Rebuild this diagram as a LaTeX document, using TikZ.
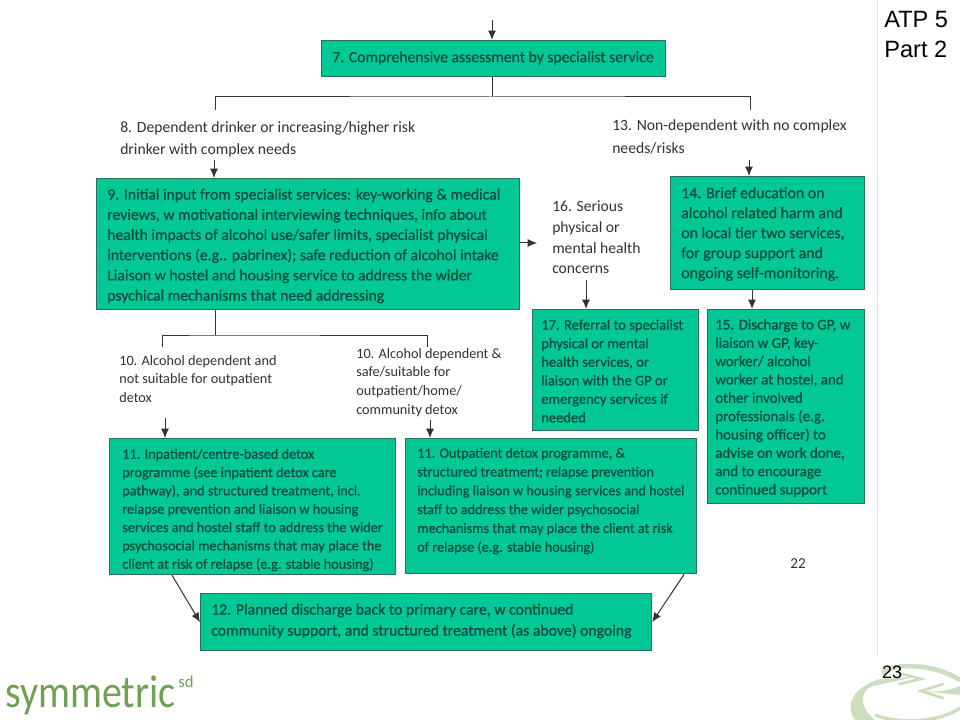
\documentclass[tikz,border=0pt]{standalone}
\usepackage{fontspec}
\setmainfont{Carlito}
\newfontfamily\arialf{Liberation Sans}
\newfontfamily\boxf[RawFeature={embolden=0.6}]{Carlito}
\usetikzlibrary{arrows.meta,calc}
\definecolor{boxfill}{RGB}{2,200,150}
\definecolor{boxline}{RGB}{45,110,95}
\definecolor{boxtext}{RGB}{10,75,60}
\definecolor{labtext}{RGB}{50,50,50}
\definecolor{logogreen}{RGB}{112,160,84}
\definecolor{swirl}{RGB}{205,222,190}
\tikzset{
  px/.style={x=0.75pt,y=-0.75pt},
  bx/.style={draw=boxline,line width=0.9pt,fill=boxfill,minimum width=#1*0.75pt,inner sep=0pt,anchor=north west},
  boxt/.style={text=boxtext,align=left,anchor=west,inner sep=0pt},
  lab/.style={text=labtext,align=left,anchor=north west,inner sep=0pt},
  conn/.style={draw=black!80,line width=0.75pt},
  arr/.style={conn,-{Latex[length=7pt,width=6pt]}},
  slide/.style={text=black,align=left,inner sep=0pt}
}
\begin{document}
\begin{tikzpicture}[px]
\useasboundingbox (0,0) rectangle (960,720);
\fill[white] (0,0) rectangle (960,720);
% swirl logo
\begin{scope}
\clip (840,650) rectangle (960,720);
\draw[swirl,line width=3.5pt] (960,680) .. controls (935,664) and (895,662) .. (882,673);
\fill[swirl] (855,720) .. controls (845,705) and (852,688) .. (880,679) -- (915,677) -- (872,686) .. controls (860,692) and (858,706) .. (875,720) -- cycle;
\draw[swirl,line width=2pt,line cap=round] (899,673) -- (921,679) -- (899,684);
\fill[swirl] (960,686) .. controls (945,692) and (935,692) .. (921,691) -- (960,695) -- cycle;
\draw[swirl,line width=2pt,line cap=round] (943,684) -- (921,691) -- (943,698);
\draw[swirl,line width=2.5pt] (875,715) .. controls (900,725) and (940,722) .. (960,708);
\end{scope}
\draw[black!12,line width=0.6pt] (877,0) -- (877,656);
% boxes
\node[bx=344,minimum height=27pt] (n7) at (321,40) {};
\node[bx=423,minimum height=98.25pt] (n9) at (96,178) {};
\node[bx=194,minimum height=84.75pt] (n14) at (670,176) {};
\node[bx=157,minimum height=145.5pt] (n15) at (707,309) {};
\node[bx=166,minimum height=90.75pt] (n17) at (532,309) {};
\node[bx=286,minimum height=102pt] (n11a) at (109,438) {};
\node[bx=291,minimum height=101.25pt] (n11b) at (405,438) {};
\node[bx=451,minimum height=42.75pt] (n12) at (200,593) {};
% box texts
\node[boxt,font=\boxf\fontsize{11.75}{15}\selectfont] (t7) at (332,58) {7. Comprehensive assessment by specialist service};
\node[boxt,font=\boxf\fontsize{11.75}{15.15}\selectfont] (t9) at (107,246) {9. Initial input from specialist services: key-working \& medical\\reviews, w motivational interviewing techniques, info about\\health impacts of alcohol use/safer limits, specialist physical\\interventions (e.g.. pabrinex); safe reduction of alcohol intake\\Liaison w hostel and housing service to address the wider\\psychical mechanisms that need addressing};
\node[boxt,font=\boxf\fontsize{11.9}{15}\selectfont] (t14) at (681,234) {14. Brief education on\\alcohol related harm and\\on local tier two services,\\for group support and\\ongoing self-monitoring.};
\node[boxt,font=\boxf\fontsize{11.2}{13.75}\selectfont] (t15) at (715,408) {15. Discharge to GP, w\\liaison w GP, key-\\worker/ alcohol\\worker at hostel, and\\other involved\\professionals (e.g.\\housing officer) to\\advise on work done,\\and to encourage\\continued support};
\node[boxt,font=\boxf\fontsize{10.9}{13.9}\selectfont] (t17) at (541,371) {17. Referral to specialist\\physical or mental\\health services, or\\liaison with the GP or\\emergency services if\\needed};
\node[boxt,font=\boxf\fontsize{10.7}{13.75}\selectfont] (t11a) at (122,510) {11. Inpatient/centre-based detox\\programme (see inpatient detox care\\pathway), and structured treatment, incl.\\relapse prevention and liaison w housing\\services and hostel staff to address the wider\\psychosocial mechanisms that may place the\\client at risk of relapse (e.g. stable housing)};
\node[boxt,font=\boxf\fontsize{10.65}{14.1}\selectfont] (t11b) at (417,501) {11. Outpatient detox programme, \&\\structured treatment; relapse prevention\\including liaison w housing services and hostel\\staff to address the wider psychosocial\\mechanisms that may place the client at risk\\of relapse (e.g. stable housing)};
\node[boxt,font=\boxf\fontsize{11.8}{15.75}\selectfont] (t12) at (211,621) {12. Planned discharge back to primary care, w continued\\community support, and structured treatment (as above) ongoing};
% labels
\node[lab,font=\fontsize{11.75}{16.5}\selectfont] (l8) at (120,121) {8. Dependent drinker or increasing/higher risk\\drinker with complex needs};
\node[lab,font=\fontsize{11.75}{17.25}\selectfont] (l13) at (612,119) {13. Non-dependent with no complex\\needs/risks};
\node[lab,font=\fontsize{11.7}{15.5}\selectfont] (l16) at (552,201) {16. Serious\\physical or\\mental health\\concerns};
\node[lab,font=\fontsize{10.7}{14}\selectfont] (l10a) at (119,355) {10. Alcohol dependent and\\not suitable for outpatient\\detox};
\node[lab,font=\fontsize{10.7}{14}\selectfont] (l10b) at (356,348) {10. Alcohol dependent \&\\safe/suitable for\\outpatient/home/\\community detox};
\node[lab,font=\fontsize{11.4}{12}\selectfont,anchor=center] (l22) at (798,564) {22};
% slide text
\node[slide,anchor=north west,font=\arialf\fontsize{17.7}{22.5}\selectfont] (atp) at (884,11) {ATP 5\\Part 2};
\node[slide,anchor=center,font=\arialf\fontsize{13.5}{16}\selectfont] (p23) at (892,672) {23};
\node[anchor=base west,inner sep=0pt,text=logogreen,font=\fontsize{30}{30}\selectfont,yscale=1.15] (logo) at (5,707) {symmetric};
\node[anchor=west,inner sep=0pt,text=logogreen,font=\fontsize{12.5}{12.5}\selectfont] (sd) at (178,682) {sd};
% connectors
\coordinate (top) at (492,20);
\coordinate (hub7) at (492,97);
\coordinate (c8) at (215,110);
\coordinate (c13) at (750,110);
\coordinate (a8) at (214,160);
\coordinate (a13) at (749,160);
\coordinate (a16) at (586,280);
\coordinate (hub9) at (215,335);
\coordinate (c10a) at (162,347);
\coordinate (c10b) at (427,347);
\coordinate (a10a) at (165,418);
\coordinate (a10b) at (430,420);
\coordinate (e9) at (537,243);
\coordinate (a15) at (752,0);
\draw[arr] (top) -- (top |- n7.north);
\draw[conn] (hub7 |- n7.south) -- (hub7);
\draw[conn] (c8) |- (hub7) -| (c13);
\draw[arr] (a8) -- (a8 |- n9.north);
\draw[arr] (a13) -- (a13 |- n14.north);
\draw[arr] (e9 -| n9.east) -- (e9);
\draw[arr] (a16) -- (a16 |- n17.north);
\draw[arr] (a15 |- n14.south) -- (a15 |- n15.north);
\draw[conn] (hub9 |- n9.south) -- (hub9);
\draw[conn] (c10a) |- (hub9) -| (c10b);
\draw[arr] (a10a) -- (a10a |- n11a.north);
\draw[arr] (a10b) -- (a10b |- n11b.north);
\draw[arr] ($(n11a.south west)+(63,0)$) -- (n12.west);
\draw[arr] ($(n11b.south east)+(-13,0)$) -- (n12.east);
\end{tikzpicture}
\end{document}
